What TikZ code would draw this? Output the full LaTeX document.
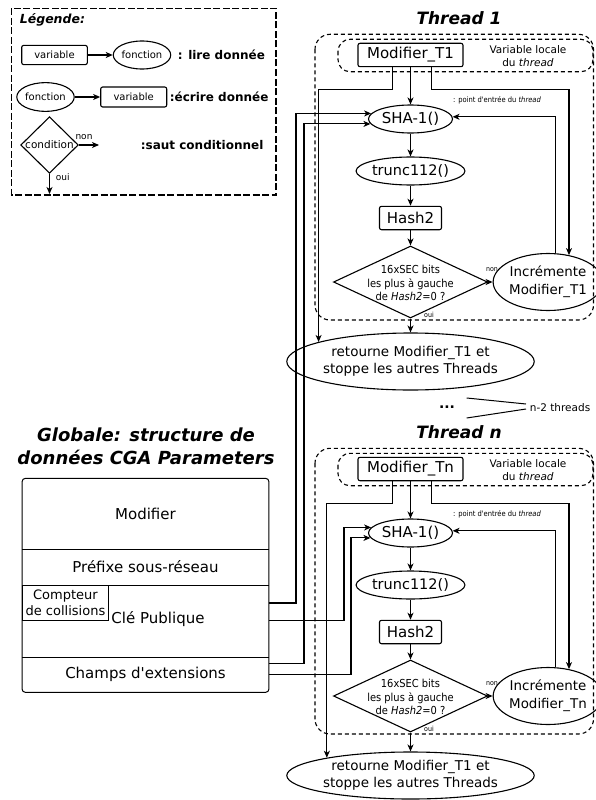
\documentclass[tikz,border=0pt]{standalone}
\usepackage{fontspec}
\setmainfont{DejaVu Sans}
\newfontfamily\condfont{DejaVu Sans Condensed}
\newfontfamily\plainfont{DejaVu Sans}
\usetikzlibrary{arrows.meta,shapes.geometric,calc}
\newcommand\fz[2]{\fontsize{#1}{#2}\selectfont}
\tikzset{
  vbox/.style={draw, rounded corners=2pt, inner sep=0pt},
  fbox/.style={draw, ellipse, inner sep=0pt},
  dbox/.style={draw, diamond, inner sep=0pt},
  dsh/.style={dash pattern=on 4pt off 3pt},
  ldsh/.style={dash pattern=on 7pt off 2.5pt},
  ttl/.style={font=\bfseries\itshape\fz{17}{20}},
  lbl/.style={font=\bfseries\fz{12}{14}, anchor=west},
  tiny/.style={font=\condfont\fz{7}{8}},
}
% #1 suffix, #2 y offset, #3 title char, #4 modifier label, #5 height of return ellipse
\newcommand\threadblk[5]{%
\begin{scope}[shift={(0,#2)}]
  \node[ttl] (title#1) at (459,18) {Thread #3};
  \draw[dsh, rounded corners=15pt] (315,34.3) rectangle (593.5,320);
  \draw[dsh, rounded corners=12pt] (338,39.3) rectangle (593,71.7);
  \node[vbox, minimum width=105pt, minimum height=23.4pt, font=\fz{15}{18}] (mod#1) at (410.5,55) {#4};
  \node[align=center, font=\fz{10.5}{12.5}] (vl#1) at (528,56) {Variable locale\\du \textit{thread}};
  \node[fbox, minimum width=84pt, minimum height=28pt, font=\fz{15}{18}] (sha#1) at (410.5,119) {SHA-1()};
  \node[tiny, font=\condfont\fz{7.5}{9}] (pe#1) at (497,100) {: point d'entrée du \textit{thread}};
  \node[fbox, minimum width=84pt, minimum height=28pt, font=\fz{14.5}{17}] (tr#1) at (410.5,171) {trunc112()};
  \node[vbox, minimum width=62pt, minimum height=23.4pt, font=\fz{15}{18}] (h#1) at (410.5,218) {Hash2};
  \node[dbox, minimum width=154pt, minimum height=72pt] (d#1) at (410.5,282) {};
  \node[align=center, font=\condfont\fz{11}{13.5}] (dt#1) at ([yshift=-1pt]d#1.center) {16xSEC bits\\les plus à gauche\\de \textit{Hash2}=0 ?};
  \node[fbox, minimum width=93pt, minimum height=57pt, align=center, font=\fz{13.4}{18}] (inc#1) at (548,282) {Incrémente\\#4};
  \node[fbox, minimum width=205pt, minimum height=#5pt, align=center, font=\fz{13.5}{17}] (ret#1) at (410.5,361.5) {retourne Modifier\_T1 et\\stoppe les autres Threads};
  \node[tiny] (non#1) at (492,270) {non};
  \node[tiny] (oui#1) at (429,315) {oui};
  \draw[->] (mod#1) -- (sha#1);
  \draw[->] (sha#1) -- (tr#1);
  \draw[->] (tr#1) -- (h#1);
  \draw[->] (h#1) -- (d#1);
  \draw[->] (d#1.east) -- (inc#1);
  \draw[->] (d#1.south) -- (ret#1.north);
  \draw[->] ([xshift=-18pt]mod#1.south) -- ++(0,22.6) -| (ret#1.168);
  \draw[->] ([xshift=21pt]mod#1.south) -- ++(0,22.6) -| (inc#1.52);
  \draw[->] (inc#1.76) |- (sha#1.3);
\end{scope}}

\begin{document}
\begin{tikzpicture}[x=1pt, y=-1pt, line width=1.1pt,
  >={Stealth[length=7pt,width=6pt,inset=2pt]}]
\useasboundingbox (0,0) rectangle (595,800);

% ---------- legend ----------
\draw[ldsh] (11.7,8.3) rectangle (276,195);
\node[font=\bfseries\itshape\fz{12.5}{15}, anchor=west] (leg) at (16,20) {Légende:};
\node[vbox, minimum width=65.6pt, minimum height=19.3pt, font=\fz{10}{12}] (lv1) at (54.5,55) {variable};
\node[fbox, minimum width=50pt, minimum height=28pt, font=\fz{10}{12}] (lf1) at (142,55) {fonction};
\draw[->] (lv1) -- (lf1);
\node[lbl] (ll1) at (174,55) {: lire donnée};
\node[fbox, minimum width=49pt, minimum height=28.7pt, font=\fz{10}{12}] (lf2) at (45.5,97) {fonction};
\node[vbox, minimum width=66pt, minimum height=20pt, font=\fz{10}{12}] (lv2) at (133.7,97) {variable};
\draw[->] (lf2) -- (lv2);
\node[lbl] (ll2) at (166,97) {:écrire donnée};
\node[dbox, minimum width=57.6pt, minimum height=56.6pt] (lc) at (49.5,145) {};
\node[font=\fz{10.5}{12}] (lct) at (lc.center) {condition};
\coordinate (lcn) at (99,145);
\draw[->] (lc.east) -- (lcn);
\node[font=\fz{9}{10}] (lnon) at (84,137) {non};
\coordinate (lco) at (49.5,194);
\draw[->] (lc.south) -- (lco);
\node[font=\fz{9}{10}, anchor=west] (loui) at (52,177.5) {oui};
\node[lbl] (ll3) at (137,145) {:saut conditionnel};

% ---------- threads ----------
\threadblk{a}{0}{1}{Modifier\_T1}{57}
\threadblk{b}{414}{n}{Modifier\_Tn}{47}

% ---------- n-2 threads ----------
\node[font=\bfseries\fz{14}{16}] (dots) at (447,407) {...};
\node[font=\fz{10.5}{12}, anchor=west] (n2) at (526,408) {n-2 threads};
\coordinate (fa) at (466.7,398);
\coordinate (fb) at (466.7,418);
\draw[line width=1pt] (fa) -- ([yshift=4pt]n2.west);
\draw[line width=1pt] (fb) -- ([yshift=-1pt]n2.west);

% ---------- global structure ----------
\node[align=center, font=\bfseries\itshape\fz{18}{23}] (gtitle) at (146,446.5) {Globale: structure de\\données CGA Parameters};
\node[inner sep=0pt, minimum width=245.6pt, minimum height=70.3pt, font=\fz{15}{18}] (rmod) at (145.5,514.15) {Modifier};
\node[inner sep=0pt, minimum width=245.6pt, minimum height=35.4pt, font=\fz{15}{18}] (rpre) at (145.5,567) {Préfixe sous-réseau};
\node[inner sep=0pt, minimum width=245.6pt, minimum height=72pt] (rcle) at (145.5,620.7) {};
\node[inner sep=0pt, minimum width=245.6pt, minimum height=35pt, font=\plainfont\fz{15}{18}] (rcha) at (145.5,674.2) {Champs d'extensions};
\draw[line width=1pt, rounded corners=3pt] (rmod.north west) rectangle (rcha.south east);
\draw[line width=1pt] (rmod.south west) -- (rmod.south east);
\draw[line width=1pt] (rpre.south west) -- (rpre.south east);
\draw[line width=1pt] (rcle.south west) -- (rcle.south east);
\node[font=\fz{15}{18}] (cletxt) at (158,619.5) {Clé Publique};
\node[draw, line width=1pt, anchor=north west, inner sep=0pt, minimum width=85.6pt, minimum height=35pt, align=center, font=\fz{13}{16}] (cpt) at (rpre.south west) {Compteur\\de collisions};

% ---------- connectors global -> threads ----------
\draw[->] ($(rcle.east)+(0,-17.7)$) -| (296,0 |- shaa.172) -- (shaa.172);
\draw[->] ($(rcha.east)+(0,-11)$) -| (304,0 |- shaa.187) -- (shaa.187);
\draw[->] (rcle.east) -| (344,0 |- shab.172) -- (shab.172);
\draw[->] (rcha.east) -| (351,0 |- shab.187) -- (shab.187);
\end{tikzpicture}
\end{document}
